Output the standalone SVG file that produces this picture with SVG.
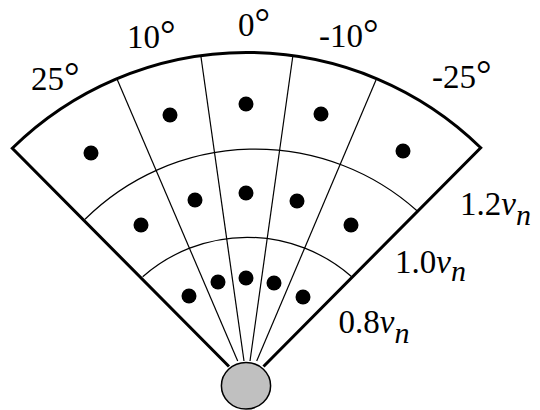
<svg xmlns="http://www.w3.org/2000/svg" width="540" height="410" viewBox="0 0 540 410">
<style>
.thick{fill:none;stroke:#000;stroke-width:3;stroke-linejoin:miter}
.thin{fill:none;stroke:#000;stroke-width:1.2}
.dot{fill:#000}
.it{font-style:italic}
.sub{font-style:italic;font-size:30px}
.deg{font-size:39px}
</style>
<rect width="540" height="410" fill="#fff"/>
<g id="connectors">
<path class="thin" d="M117,79 L237.7,361"/>
<path class="thin" d="M201,57 L244,361"/>
<path class="thin" d="M292.7,57 L250,361"/>
<path class="thin" d="M376,80 L256.7,361"/>
<path class="thin" d="M85,219.3 A242.3,242.3 0 0 1 417.3,211"/>
<path class="thin" d="M142.7,276.7 A158.3,158.3 0 0 1 351.7,276.7"/>
<path class="thick" d="M229,366.5 L12.3,148.3 A334.9,334.9 0 0 1 480.7,147.7 L263.5,366.5"/>
</g>
<g id="source">
<ellipse cx="246" cy="385.7" rx="24.6" ry="23.3" fill="#c0c0c0" stroke="#000" stroke-width="1.5"/>
</g>
<g id="cells">
<circle class="dot" cx="91" cy="153" r="7.5"/>
<circle class="dot" cx="170" cy="115" r="7.5"/>
<circle class="dot" cx="246" cy="104" r="7.5"/>
<circle class="dot" cx="321" cy="114" r="7.5"/>
<circle class="dot" cx="403" cy="151" r="7.5"/>
<circle class="dot" cx="141" cy="225" r="7.5"/>
<circle class="dot" cx="195" cy="200" r="7.5"/>
<circle class="dot" cx="246" cy="193" r="7.5"/>
<circle class="dot" cx="297" cy="201" r="7.5"/>
<circle class="dot" cx="351" cy="225" r="7.5"/>
<circle class="dot" cx="189" cy="296" r="7.5"/>
<circle class="dot" cx="218" cy="282" r="7.5"/>
<circle class="dot" cx="246" cy="278" r="7.5"/>
<circle class="dot" cx="274" cy="283" r="7.5"/>
<circle class="dot" cx="303" cy="297" r="7.5"/>
</g>
<g id="labels" font-family="'Liberation Serif', 'Times New Roman', serif" font-size="33" fill="#000">
<text x="31" y="90">25<tspan class="deg">°</tspan></text>
<text x="127" y="48">10<tspan class="deg">°</tspan></text>
<text x="238" y="36">0<tspan class="deg">°</tspan></text>
<text x="319" y="46.7">-10<tspan class="deg">°</tspan></text>
<text x="432" y="88.3">-25<tspan class="deg">°</tspan></text>
<text x="460" y="215">1.2<tspan class="it">v</tspan><tspan class="sub" dy="10">n</tspan></text>
<text x="395" y="272.7">1.0<tspan class="it">v</tspan><tspan class="sub" dy="8">n</tspan></text>
<text x="338.5" y="333.3">0.8<tspan class="it">v</tspan><tspan class="sub" dy="10">n</tspan></text>
</g>
</svg>
